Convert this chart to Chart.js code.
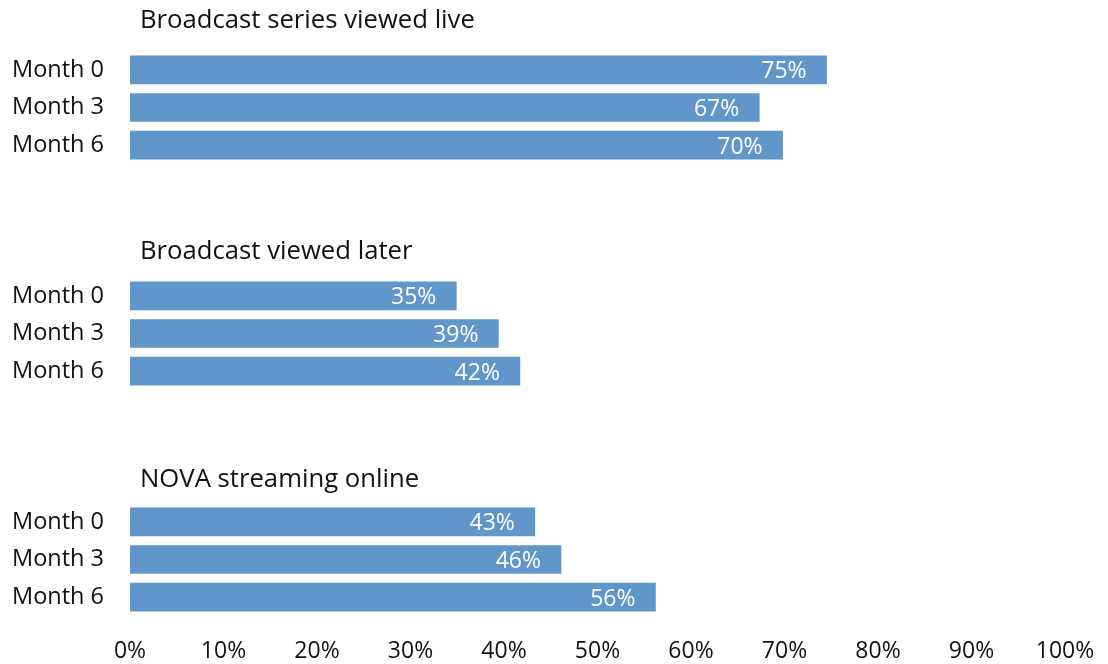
<!DOCTYPE html>
<html>
<head>
<meta charset="utf-8">
<script src="https://cdn.jsdelivr.net/npm/chart.js@4/dist/chart.umd.min.js"></script>
<style>
html,body{margin:0;padding:0;background:#fff;}
#wrap{width:1108px;height:664px;}
</style>
</head>
<body>
<div id="wrap"><canvas id="c" width="1108" height="664"></canvas></div>
<script>
const categories = ['Month 0','Month 3','Month 6','','','','Month 0','Month 3','Month 6','','','','Month 0','Month 3','Month 6'];
const values = [74.5, 67.3, 69.8, null, null, null, 34.9, 39.4, 41.7, null, null, null, 43.3, 46.1, 56.2];
const valueLabels = ['75%','67%','70%','','','','35%','39%','42%','','','','43%','46%','56%'];
const groupTitles = ['Broadcast series viewed live','Broadcast viewed later','NOVA streaming online'];
const xTicks = [0,10,20,30,40,50,60,70,80,90,100];

const FONT = '"Open Sans", Lato, sans-serif';
const TEXT = '#111111';

const overlay = {
  id: 'overlay',
  afterDatasetsDraw(chart) {
    const ctx = chart.ctx;
    const meta = chart.getDatasetMeta(0);
    ctx.save();
    ctx.font = '23px ' + FONT;
    ctx.fillStyle = '#ffffff';
    ctx.textAlign = 'right';
    ctx.textBaseline = 'middle';
    meta.data.forEach((bar, i) => {
      if (values[i] == null || !valueLabels[i]) return;
      ctx.fillText(valueLabels[i], bar.x - 20, bar.y + 2);
    });
    const ys = chart.scales.y;
    const titlePos = [-1.33, 4.80, 10.85];
    ctx.font = '25.7px ' + FONT;
    ctx.fillStyle = TEXT;
    ctx.textAlign = 'left';
    groupTitles.forEach((t, g) => {
      ctx.fillText(t, chart.chartArea.left + 10, ys.getPixelForValue(titlePos[g]) + 1);
    });
    ctx.restore();
  }
};

new Chart(document.getElementById('c'), {
  type: 'bar',
  data: {
    labels: categories,
    datasets: [{
      data: values,
      backgroundColor: '#6196CA',
      borderWidth: 0,
      barThickness: 28
    }]
  },
  options: {
    indexAxis: 'y',
    responsive: false,
    animation: false,
    devicePixelRatio: 1,
    layout: { padding: { left: 12, top: 51, right: 43, bottom: 0 } },
    plugins: { legend: { display: false }, tooltip: { enabled: false } },
    scales: {
      x: {
        min: 0, max: 100,
        afterBuildTicks(scale) { scale.ticks = xTicks.map(v => ({ value: v })); },
        afterFit(scale) { scale.height = 48; scale.paddingLeft = 0; scale.paddingRight = 0; },
        grid: { display: false, drawTicks: false },
        border: { display: false },
        ticks: {
          padding: 22,
          color: TEXT,
          font: { family: FONT, size: 23 },
          callback: v => v + '%',
          maxRotation: 0
        }
      },
      y: {
        afterFit(scale) { scale.width = 118; scale.paddingTop = 0; scale.paddingBottom = 0; },
        grid: { display: false, drawTicks: false },
        border: { display: false },
        ticks: {
          crossAlign: 'far',
          padding: 26,
          color: TEXT,
          autoSkip: false,
          font: { family: FONT, size: 23.5 }
        }
      }
    }
  },
  plugins: [overlay]
});
</script>
</body>
</html>
